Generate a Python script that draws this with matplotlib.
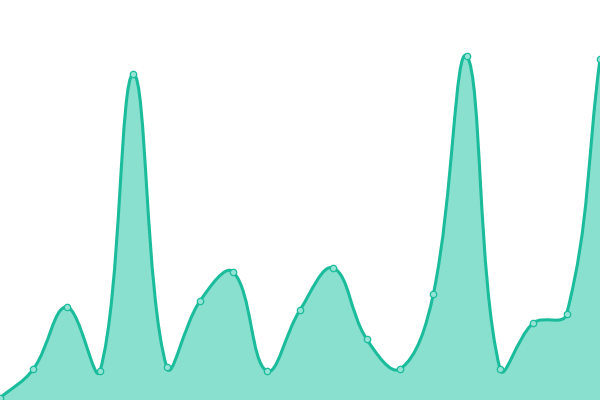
import matplotlib
matplotlib.use('Agg')
import matplotlib.pyplot as plt
from matplotlib.path import Path
from matplotlib.patches import PathPatch
import numpy as np

# valores (altura desde abajo, escala 0-400)
valores = [2, 31, 93, 29, 326, 33, 99, 128, 29, 90, 132, 61, 31, 106, 344, 31, 77, 86, 341]
n_puntos = len(valores)

color_linea = '#1abc9c'
color_relleno = '#8ae0cf'

ancho, alto = 600, 400
xs = np.linspace(0, ancho, n_puntos)
ys = np.array(valores, dtype=float)


def puntos_control(x, y, tension=0.4):
    # spline tipo chart.js (distancias en pixeles)
    c1, c2 = [], []
    n = len(x)
    for i in range(n):
        p0 = (x[max(i - 1, 0)], y[max(i - 1, 0)])
        p1 = (x[i], y[i])
        p2 = (x[min(i + 1, n - 1)], y[min(i + 1, n - 1)])
        d01 = np.hypot(p1[0] - p0[0], p1[1] - p0[1])
        d12 = np.hypot(p2[0] - p1[0], p2[1] - p1[1])
        tot = d01 + d12
        s01 = d01 / tot if tot else 0
        s12 = d12 / tot if tot else 0
        fa, fb = tension * s01, tension * s12
        prev_c = (p1[0] - fa * (p2[0] - p0[0]), p1[1] - fa * (p2[1] - p0[1]))
        next_c = (p1[0] + fb * (p2[0] - p0[0]), p1[1] + fb * (p2[1] - p0[1]))
        prev_c = (min(max(prev_c[0], 0), ancho), min(max(prev_c[1], 0), alto))
        next_c = (min(max(next_c[0], 0), ancho), min(max(next_c[1], 0), alto))
        c1.append(prev_c)
        c2.append(next_c)
    return c1, c2


c_prev, c_next = puntos_control(xs, ys)
verts = [(xs[0], ys[0])]
codes = [Path.MOVETO]
for i in range(1, n_puntos):
    verts += [c_next[i - 1], c_prev[i], (xs[i], ys[i])]
    codes += [Path.CURVE4] * 3

verts_area = verts + [(xs[-1], 0), (xs[0], 0), (xs[0], ys[0])]
codes_area = codes + [Path.LINETO, Path.LINETO, Path.CLOSEPOLY]

fig = plt.figure(figsize=(6, 4), dpi=100)
ax = fig.add_axes([0, 0, 1, 1])
ax.add_patch(PathPatch(Path(verts_area, codes_area), facecolor=color_relleno, edgecolor='none'))
ax.add_patch(PathPatch(Path(verts, codes), facecolor='none', edgecolor=color_linea, lw=2.2))
ax.plot(xs, ys, 'o', ms=4.6, mfc='#95e3d4', mec=color_linea, mew=0.9, clip_on=False)
ax.set_xlim(0, ancho)
ax.set_ylim(0, alto)
ax.axis('off')
fig.savefig('out.png', dpi=100)
